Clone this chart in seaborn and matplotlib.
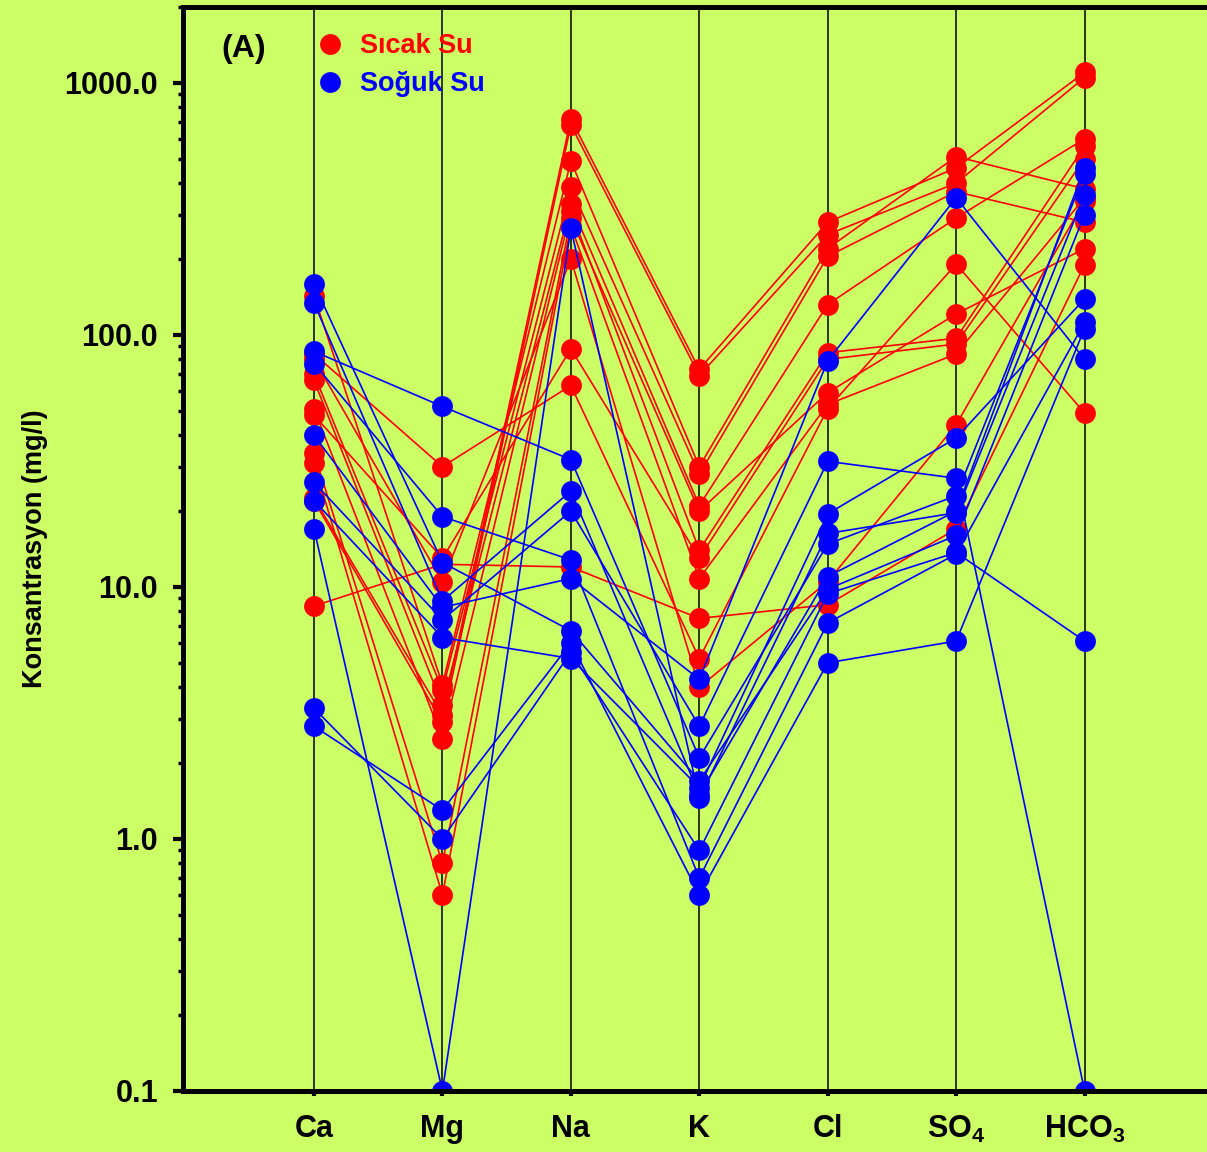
import numpy as np
import pandas as pd
import matplotlib
matplotlib.use("Agg")
import matplotlib.pyplot as plt
from matplotlib.lines import Line2D
from matplotlib.ticker import FixedLocator, LogLocator, NullFormatter
import seaborn as sns

# iyonlar (x ekseni)
iyonlar = ["Ca", "Mg", "Na", "K", "Cl", "SO$_4$", "HCO$_3$"]

# Sicak su ornekleri (mg/l), her liste bir iyon, sira = ornek no
sicak_ca = [22.5, 22, 143, 70, 66, 51, 48, 34, 31, 84, 80, 8.4]
sicak_mg = [3.1, 2.9, 4.1, 3.9, 3.4, 2.5, 13, 0.8, 0.6, 30, 10.5, 12.3]
sicak_na = [720, 680, 490, 385, 330, 310, 88, 290, 270, 63, 200, 12]
sicak_k = [73, 69, 30, 28, 21, 14, 13, 20, 10.8, 5.2, 4.0, 7.5]
sicak_cl = [280, 250, 220, 205, 132, 85, 80, 59, 53, 51, 10.5, 8.5]
sicak_so4 = [460, 400, 510, 370, 291, 97, 92, 121, 84, 191, 44, 17]
sicak_hco3 = [1100, 1050, 380, 280, 600, 560, 500, 220, 350, 49, 340, 190]

# Soguk su ornekleri (mg/l)
soguk_ca = [159, 134, 86, 77, 40, 26, 22, 17, 3.3, 2.8]
soguk_mg = [12.5, 8.8, 52, 19, 8.3, 7.4, 6.3, 0.1, 1.0, 1.3]
soguk_na = [6.7, 24, 32, 12.8, 10.8, 20, 5.2, 265, 5.5, 6.0]
soguk_k = [1.7, 1.5, 2.1, 0.7, 4.3, 2.8, 1.6, 1.45, 0.9, 0.6]
soguk_cl = [9.8, 11, 14.8, 7.2, 79, 31.5, 19.5, 16.3, 9.4, 5.0]
soguk_so4 = [16, 20, 23, 13.5, 350, 27, 39, 19.7, 13.7, 6.1]
soguk_hco3 = [300, 460, 435, 112, 80, 0.1, 139, 360, 6.1, 106]


def uzun_tablo(grup, sutunlar):
    rows = []
    for i, degerler in enumerate(zip(*sutunlar)):
        for j, v in enumerate(degerler):
            rows.append({"grup": grup, "ornek": f"{grup}-{i}", "x": j + 1, "deger": v})
    return rows


df = pd.DataFrame(
    uzun_tablo("Sıcak Su", [sicak_ca, sicak_mg, sicak_na, sicak_k, sicak_cl, sicak_so4, sicak_hco3])
    + uzun_tablo("Soğuk Su", [soguk_ca, soguk_mg, soguk_na, soguk_k, soguk_cl, soguk_so4, soguk_hco3])
)

sns.set_style("ticks")
plt.rcParams["font.family"] = ["Liberation Sans", "DejaVu Sans"]
plt.rcParams["font.weight"] = "bold"
plt.rcParams["text.color"] = "black"
plt.rcParams["axes.labelcolor"] = "black"
plt.rcParams["xtick.color"] = "black"
plt.rcParams["ytick.color"] = "black"
plt.rcParams["mathtext.fontset"] = "custom"
plt.rcParams["mathtext.rm"] = "Liberation Sans:bold"
plt.rcParams["mathtext.it"] = "Liberation Sans:bold"
plt.rcParams["mathtext.bf"] = "Liberation Sans:bold"

bg = "#CCFF66"
renkler = {"Sıcak Su": "#FF0000", "Soğuk Su": "#0000FF"}

fig = plt.figure(figsize=(12.07, 11.52), dpi=100, facecolor=bg)
ax = fig.add_axes([183 / 1207, 61 / 1152, 1030 / 1207, 1084 / 1152])
ax.set_facecolor(bg)

# kategori dikey cizgileri
for j in range(1, len(iyonlar) + 1):
    ax.axvline(j, color="black", lw=1.1, zorder=0)

sns.lineplot(
    data=df, x="x", y="deger", hue="grup", units="ornek", estimator=None,
    sort=False, palette=renkler, marker="o", markersize=15, markeredgewidth=0,
    linewidth=1.2, legend=False, ax=ax,
)

ax.set_yscale("log")
ax.set_ylim(0.1, 2000)
ax.set_xlim(-0.02, 8)

ax.yaxis.set_major_locator(FixedLocator([0.1, 1, 10, 100, 1000]))
ax.set_yticklabels(["0.1", "1.0", "10.0", "100.0", "1000.0"])
ax.yaxis.set_minor_locator(LogLocator(base=10, subs=np.arange(2, 10)))
ax.yaxis.set_minor_formatter(NullFormatter())
ax.set_xticks(range(1, len(iyonlar) + 1))
ax.set_xticklabels(iyonlar)

ax.tick_params(axis="y", which="major", length=7, width=3, pad=11, labelsize=22,
               direction="out", colors="black")
ax.tick_params(axis="y", which="minor", length=3.5, width=2.5, direction="out", colors="black")
ax.tick_params(axis="x", which="major", length=3.5, width=3, pad=13, labelsize=22,
               direction="out", colors="black")
for lbl in ax.get_xticklabels() + ax.get_yticklabels():
    lbl.set_fontweight("bold")

for s in ["left", "bottom", "top", "right"]:
    ax.spines[s].set_linewidth(3.6)
    ax.spines[s].set_color("black")

ax.set_xlabel("")
ax.set_ylabel("Konsantrasyon (mg/l)", fontsize=19.5, fontweight="bold", labelpad=12, color="black")

ax.text(0.037, 0.961, "(A)", transform=ax.transAxes, fontsize=23, fontweight="bold",
        va="center", color="black")

handles = [
    Line2D([], [], ls="none", marker="o", markersize=15, markeredgewidth=0, color=renkler[g])
    for g in renkler
]
leg = ax.legend(
    handles, list(renkler), loc="upper left", bbox_to_anchor=(0.1296, 0.976),
    frameon=False, borderpad=0, borderaxespad=0, handlelength=1.0,
    handletextpad=0.6, labelspacing=0.45, prop={"size": 19.5, "weight": "bold"},
)
for t, g in zip(leg.get_texts(), renkler):
    t.set_color(renkler[g])

fig.savefig("out.png", dpi=100, facecolor=bg)
